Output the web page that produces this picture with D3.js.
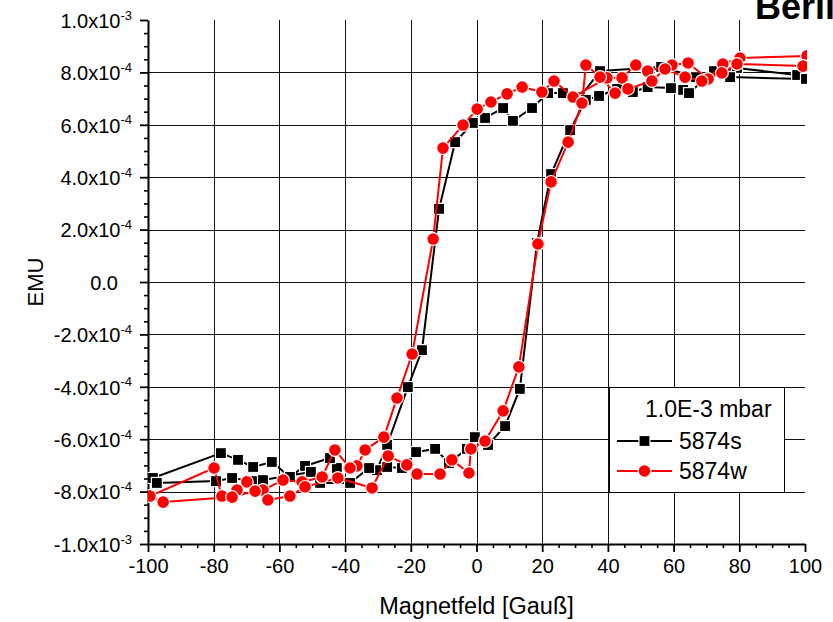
<!DOCTYPE html>
<html>
<head>
<meta charset="utf-8">
<script src="https://cdn.jsdelivr.net/npm/d3@7/dist/d3.min.js"></script>
<style>
  body { margin: 0; background: #fff; }
  svg { display: block; }
  text { font-family: "Liberation Sans", Arial, Helvetica, sans-serif; fill: #000; }
</style>
</head>
<body>
<svg id="chart" width="833" height="622"></svg>
<script>
// Hysteresis loops of two samples at 1.0E-3 mbar.
// Field in Gauss, moment in EMU. Each loop: sweep down from +100 G, then back up.

// 5874s – downward sweep
const sFieldDown = [97.6, 79.3, 66.8, 56.2, 37.6, 31.5, 26.3, 21.8, 16.9, 11.1, 8.1, 2.6, -1.1, -6.5,
  -11.4, -16.6, -20.9, -27.2, -30.3, -42.5, -44.6, -52.2, -56.8, -62.3, -68.0, -72.6, -77.8, -98.5];
const sEmuDown = [7.90e-4, 8.17e-4, 7.82e-4, 8.21e-4, 8.05e-4, 7.06e-4, 7.21e-4, 7.21e-4, 6.64e-4, 6.15e-4,
  6.64e-4, 6.26e-4, 6.07e-4, 5.34e-4, 2.79e-4, -2.60e-4, -4.01e-4, -6.22e-4, -7.18e-4, -7.10e-4, -6.72e-4,
  -7.02e-4, -7.44e-4, -6.87e-4, -7.06e-4, -6.79e-4, -6.53e-4, -7.48e-4];
// 5874s – upward sweep
const sFieldUp = [-97.3, -79.3, -74.4, -68.3, -65.0, -50.4, -47.6, -38.5, -32.7, -27.2, -22.7, -18.4, -12.6,
  -8.4, -2.9, -0.5, 3.5, 8.7, 13.2, 18.4, 22.7, 28.5, 33.3, 37.3, 42.8, 47.6, 52.1, 59.2, 62.9, 64.7,
  72.3, 77.2, 100.3];
const sEmuUp = [-7.67e-4, -7.60e-4, -7.48e-4, -7.60e-4, -7.56e-4, -7.25e-4, -7.67e-4, -7.67e-4, -7.10e-4,
  -7.06e-4, -7.10e-4, -6.49e-4, -6.37e-4, -6.91e-4, -6.37e-4, -5.92e-4, -6.22e-4, -5.50e-4, -4.08e-4,
  1.49e-4, 4.12e-4, 5.80e-4, 6.95e-4, 7.10e-4, 7.37e-4, 7.25e-4, 7.44e-4, 7.40e-4, 7.33e-4, 7.21e-4,
  8.05e-4, 7.82e-4, 7.75e-4];

// 5874w – downward sweep
const wFieldDown = [100.6, 80.2, 75.0, 70.5, 64.4, 59.5, 52.1, 48.5, 44.3, 39.7, 29.4, 23.6, 19.9, 13.9,
  9.3, 4.4, 0.2, -4.1, -10.2, -13.2, -19.6, -24.2, -28.2, -33.9, -36.4, -38.5, -43.1, -47.0, -53.1,
  -58.9, -65.0, -69.9, -72.9, -77.5, -79.9, -99.4];
const wEmuDown = [8.63e-4, 8.55e-4, 8.32e-4, 7.75e-4, 8.36e-4, 8.28e-4, 8.05e-4, 8.28e-4, 7.79e-4, 7.79e-4,
  7.06e-4, 7.67e-4, 7.25e-4, 7.44e-4, 7.18e-4, 6.87e-4, 6.60e-4, 5.99e-4, 5.11e-4, 1.64e-4, -2.75e-4,
  -4.43e-4, -5.92e-4, -6.41e-4, -7.02e-4, -7.10e-4, -6.41e-4, -7.44e-4, -7.63e-4, -7.56e-4, -7.94e-4,
  -7.63e-4, -7.94e-4, -8.17e-4, -7.10e-4, -8.17e-4];
// 5874w – upward sweep
const wFieldUp = [-95.4, -74.4, -67.4, -63.5, -56.8, -52.2, -42.2, -31.8, -26.9, -21.2, -18.1, -11.1, -7.5,
  -2.3, -1.7, 2.6, 8.1, 12.9, 18.7, 22.7, 27.9, 32.1, 33.3, 37.6, 42.2, 46.1, 53.4, 57.4, 63.5, 68.6,
  74.7, 79.3, 99.4];
const wEmuUp = [-8.40e-4, -8.21e-4, -7.98e-4, -8.32e-4, -8.17e-4, -7.82e-4, -7.48e-4, -7.86e-4, -6.64e-4,
  -6.98e-4, -7.33e-4, -7.33e-4, -6.79e-4, -7.29e-4, -6.37e-4, -6.07e-4, -4.92e-4, -3.24e-4, 1.45e-4,
  3.82e-4, 5.34e-4, 6.83e-4, 8.28e-4, 7.82e-4, 7.21e-4, 7.37e-4, 7.67e-4, 8.13e-4, 7.82e-4, 7.67e-4,
  7.98e-4, 8.32e-4, 8.24e-4];

const seriesNames = ["5874s", "5874w"];
const seriesColors = ["#000000", "#ff0000"];
const legendTitle = "1.0E-3 mbar";
const chartTitle = "Berlin";
const xTitle = "Magnetfeld [Gauß]";
const yTitle = "EMU";

const xMajorTicks = [-100, -80, -60, -40, -20, 0, 20, 40, 60, 80, 100];
const yMajorTicks = [-1.0e-3, -8.0e-4, -6.0e-4, -4.0e-4, -2.0e-4, 0, 2.0e-4, 4.0e-4, 6.0e-4, 8.0e-4, 1.0e-3];
const xGridTicks = [-80, -60, -40, -20, 0, 20, 40, 60, 80];
const yGridTicks = [-8.0e-4, -6.0e-4, -4.0e-4, -2.0e-4, 0, 2.0e-4, 4.0e-4, 6.0e-4, 8.0e-4];

// ---- layout ----
const W = 833, H = 622;
const plot = { left: 148, right: 805, top: 20, bottom: 544 };

const svg = d3.select("#chart");
const x = d3.scaleLinear().domain([-100, 100]).range([plot.left, plot.right]);
const y = d3.scaleLinear().domain([-1e-3, 1e-3]).range([plot.bottom, plot.top]);

// grid
const grid = svg.append("g").attr("stroke", "#111").attr("stroke-width", 1);
grid.selectAll("line.v").data(xGridTicks).join("line")
  .attr("x1", d => Math.round(x(d)) + 0.5).attr("x2", d => Math.round(x(d)) + 0.5)
  .attr("y1", plot.top).attr("y2", plot.bottom);
grid.selectAll("line.h").data(yGridTicks).join("line")
  .attr("y1", d => Math.round(y(d)) + 0.5).attr("y2", d => Math.round(y(d)) + 0.5)
  .attr("x1", plot.left).attr("x2", plot.right);

// minor ticks
const xMinor = d3.range(-100, 100.001, 5).filter(v => v % 20 !== 0);
const yMinor = d3.range(-10, 10.001, 0.5).filter(v => v % 2 !== 0).map(v => v * 1e-4);

svg.append("g").attr("transform", `translate(0,${plot.bottom})`)
  .call(d3.axisBottom(x).tickValues(xMinor).tickSize(4).tickFormat(""))
  .call(g => g.select(".domain").remove())
  .selectAll("line").attr("stroke-width", 1.6);
svg.append("g").attr("transform", `translate(${plot.left},0)`)
  .call(d3.axisLeft(y).tickValues(yMinor).tickSize(4).tickFormat(""))
  .call(g => g.select(".domain").remove())
  .selectAll("line").attr("stroke-width", 1.6);

// major x axis
const xAxis = svg.append("g").attr("transform", `translate(0,${plot.bottom})`)
  .call(d3.axisBottom(x).tickValues(xMajorTicks).tickSize(8).tickSizeOuter(0).tickPadding(7));
xAxis.select(".domain").attr("stroke-width", 2);
xAxis.selectAll(".tick line").attr("stroke-width", 1.8);
xAxis.selectAll(".tick text").attr("font-size", 20).attr("font-family", null).attr("dy", "0.71em")
  .text(d => (d < 0 ? "-" : "") + Math.abs(d));

// major y axis with power-of-ten labels
const yAxis = svg.append("g").attr("transform", `translate(${plot.left},0)`)
  .call(d3.axisLeft(y).tickValues(yMajorTicks).tickSize(8).tickSizeOuter(0).tickPadding(8));
yAxis.select(".domain").attr("stroke-width", 2);
yAxis.selectAll(".tick line").attr("stroke-width", 1.8);
yAxis.selectAll(".tick text").each(function (d) {
  const t = d3.select(this).text("").attr("font-size", 20).attr("font-family", null).attr("dy", "0.36em");
  if (d === 0) { t.attr("x", -30).text("0.0"); return; }
  const e = Math.floor(Math.log10(Math.abs(d)) + 1e-9);
  const m = d / Math.pow(10, e);
  t.append("tspan").text(m.toFixed(1) + "x10");
  t.append("tspan").attr("font-size", 13).attr("dy", "-0.62em").text(String(e));
});

// axis titles
svg.append("text").attr("x", (plot.left + plot.right) / 2).attr("y", 614)
  .attr("text-anchor", "middle").attr("font-size", 23.5).text(xTitle);
svg.append("text").attr("transform", `translate(43,${y(0)}) rotate(-90)`)
  .attr("text-anchor", "middle").attr("font-size", 22).text(yTitle);

// chart title (runs off the right edge)
svg.append("text").attr("x", 755).attr("y", 19).attr("font-size", 36)
  .attr("font-weight", "bold").text(chartTitle);

// ---- data ----
svg.append("clipPath").attr("id", "plotClip").append("rect")
  .attr("x", plot.left).attr("y", 0).attr("width", plot.right - plot.left + 2).attr("height", H);

const loops = [
  { field: sFieldDown.concat(sFieldUp), emu: sEmuDown.concat(sEmuUp), shape: "square" },
  { field: wFieldDown.concat(wFieldUp), emu: wEmuDown.concat(wEmuUp), shape: "circle" }
];
const line = d3.line().x(d => x(d[0])).y(d => y(d[1]));

function drawMarker(g, shape, cx, cy, color) {
  if (shape === "square") {
    g.append("rect").attr("x", cx - 5.5).attr("y", cy - 5.5).attr("width", 11).attr("height", 11)
      .attr("fill", color).attr("stroke", "#fff").attr("stroke-width", 1.2);
  } else {
    g.append("circle").attr("cx", cx).attr("cy", cy).attr("r", 6.4)
      .attr("fill", color).attr("stroke", "#fff").attr("stroke-width", 1.2);
  }
}

const dataG = svg.append("g").attr("clip-path", "url(#plotClip)");
loops.forEach((s, i) => {
  const pts = s.field.map((f, k) => [f, s.emu[k]]);
  const g = dataG.append("g");
  g.append("path").attr("d", line(pts)).attr("fill", "none")
    .attr("stroke", seriesColors[i]).attr("stroke-width", 2).attr("stroke-linejoin", "round");
  pts.forEach(p => drawMarker(g, s.shape, x(p[0]), y(p[1]), seriesColors[i]));
});

// ---- legend ----
const lg = svg.append("g");
lg.append("rect").attr("x", 609.5).attr("y", 387.5).attr("width", 175).attr("height", 105)
  .attr("fill", "#fff").attr("stroke", "#000").attr("stroke-width", 1);
lg.append("text").attr("x", 645).attr("y", 417).attr("font-size", 23).text(legendTitle);
seriesNames.forEach((name, i) => {
  const ly = 441 + i * 30;
  lg.append("line").attr("x1", 617).attr("x2", 672).attr("y1", ly).attr("y2", ly)
    .attr("stroke", seriesColors[i]).attr("stroke-width", 2);
  drawMarker(lg, loops[i].shape, 644.5, ly, seriesColors[i]);
  lg.append("text").attr("x", 679).attr("y", ly + 8).attr("font-size", 23).text(name);
});
</script>
</body>
</html>
